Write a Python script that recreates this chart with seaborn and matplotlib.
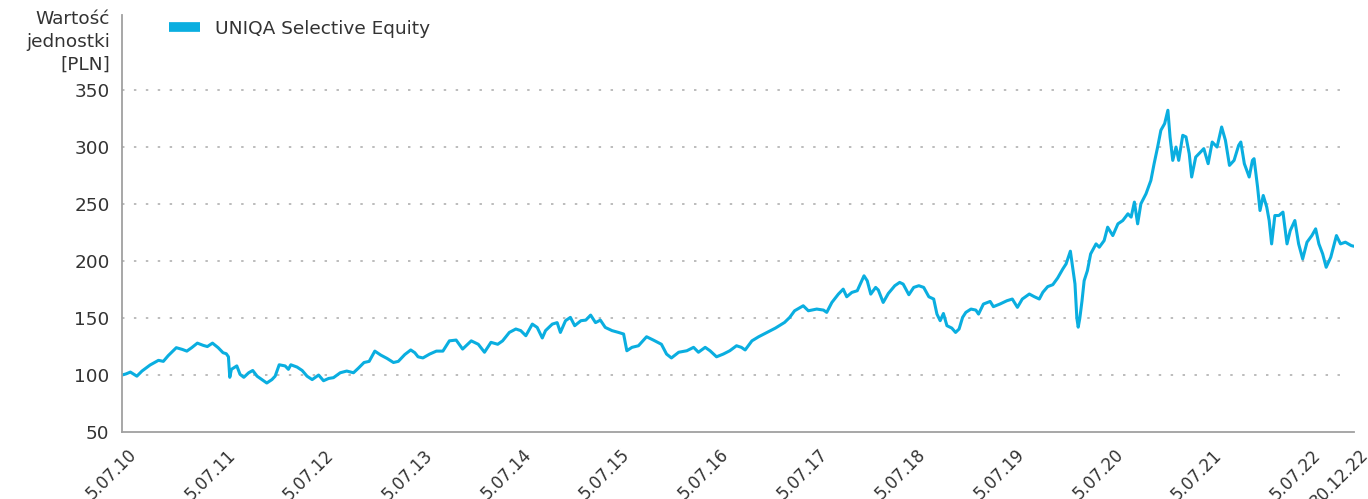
import pandas as pd
import matplotlib
matplotlib.use("Agg")
import matplotlib.pyplot as plt
import matplotlib.transforms as mtransforms
import seaborn as sns

# ========== DATA ==========
dates = [
    "2010-07-05", "2010-07-20", "2010-08-05", "2010-08-29", "2010-09-17", "2010-10-17",
    "2010-11-17", "2010-12-05", "2010-12-23", "2011-01-22", "2011-02-13", "2011-03-02",
    "2011-03-20", "2011-04-10", "2011-05-02", "2011-05-17", "2011-06-05", "2011-06-26",
    "2011-07-14", "2011-07-26", "2011-08-03", "2011-08-08", "2011-08-14", "2011-09-03",
    "2011-09-15", "2011-09-29", "2011-10-17", "2011-11-01", "2011-11-17", "2011-12-05",
    "2011-12-23", "2012-01-11", "2012-01-23", "2012-02-07", "2012-02-29", "2012-03-12",
    "2012-03-21", "2012-04-13", "2012-05-02", "2012-05-20", "2012-06-08", "2012-07-02",
    "2012-07-20", "2012-08-08", "2012-08-26", "2012-09-20", "2012-10-14", "2012-11-08",
    "2012-11-26", "2012-12-17", "2013-01-05", "2013-01-26", "2013-02-17", "2013-03-12",
    "2013-04-05", "2013-04-23", "2013-05-17", "2013-06-08", "2013-06-23", "2013-07-05",
    "2013-07-23", "2013-08-17", "2013-09-11", "2013-10-05", "2013-10-29", "2013-11-23",
    "2013-12-17", "2014-01-18", "2014-02-13", "2014-03-08", "2014-04-01", "2014-04-26",
    "2014-05-14", "2014-06-08", "2014-07-02", "2014-07-20", "2014-08-08", "2014-09-01",
    "2014-09-19", "2014-10-08", "2014-10-20", "2014-11-14", "2014-12-02", "2014-12-14",
    "2015-01-02", "2015-01-20", "2015-02-05", "2015-02-28", "2015-03-18", "2015-04-05",
    "2015-04-23", "2015-05-11", "2015-05-29", "2015-06-23", "2015-07-17", "2015-08-05",
    "2015-08-17", "2015-09-05", "2015-09-29", "2015-10-29", "2015-11-23", "2015-12-23",
    "2016-01-11", "2016-01-29", "2016-02-25", "2016-03-26", "2016-04-20", "2016-05-08",
    "2016-06-02", "2016-06-20", "2016-07-14", "2016-08-08", "2016-09-01", "2016-09-26",
    "2016-10-14", "2016-10-28", "2016-11-22", "2016-12-17", "2017-01-17", "2017-02-17",
    "2017-03-23", "2017-04-11", "2017-04-29", "2017-05-31", "2017-06-19", "2017-07-20",
    "2017-08-14", "2017-08-26", "2017-09-14", "2017-10-08", "2017-10-26", "2017-11-08",
    "2017-11-27", "2017-12-17", "2018-01-11", "2018-01-23", "2018-02-05", "2018-02-23",
    "2018-03-05", "2018-03-23", "2018-04-11", "2018-05-05", "2018-05-23", "2018-06-05",
    "2018-06-26", "2018-07-14", "2018-08-02", "2018-08-20", "2018-09-08", "2018-09-26",
    "2018-10-08", "2018-10-20", "2018-11-01", "2018-11-14", "2018-12-02", "2018-12-16",
    "2018-12-29", "2019-01-11", "2019-01-23", "2019-02-11", "2019-03-01", "2019-03-11",
    "2019-03-29", "2019-04-23", "2019-05-05", "2019-05-29", "2019-06-24", "2019-07-14",
    "2019-08-02", "2019-08-20", "2019-09-15", "2019-10-03", "2019-10-22", "2019-11-04",
    "2019-11-22", "2019-12-11", "2019-12-29", "2020-01-17", "2020-01-29", "2020-02-14",
    "2020-02-24", "2020-03-02", "2020-03-09", "2020-03-14", "2020-03-20", "2020-03-28",
    "2020-04-05", "2020-04-17", "2020-04-29", "2020-05-19", "2020-05-31", "2020-06-18",
    "2020-07-01", "2020-07-20", "2020-08-08", "2020-08-26", "2020-09-14", "2020-09-26",
    "2020-10-08", "2020-10-20", "2020-11-01", "2020-11-20", "2020-12-08", "2020-12-20",
    "2021-01-02", "2021-01-14", "2021-01-28", "2021-02-09", "2021-02-17", "2021-02-27",
    "2021-03-11", "2021-03-21", "2021-04-05", "2021-04-17", "2021-04-29", "2021-05-08",
    "2021-05-23", "2021-06-10", "2021-06-22", "2021-07-08", "2021-07-23", "2021-08-10",
    "2021-08-27", "2021-09-10", "2021-09-25", "2021-10-12", "2021-10-29", "2021-11-06",
    "2021-11-19", "2021-12-07", "2021-12-19", "2021-12-25", "2022-01-07", "2022-01-16",
    "2022-01-28", "2022-02-10", "2022-02-19", "2022-02-28", "2022-03-12", "2022-03-27",
    "2022-04-11", "2022-04-26", "2022-05-08", "2022-05-25", "2022-06-08", "2022-06-23",
    "2022-07-09", "2022-07-27", "2022-08-10", "2022-08-22", "2022-09-05", "2022-09-18",
    "2022-10-05", "2022-10-26", "2022-11-10", "2022-11-28", "2022-12-20", "2022-12-30",
]
values = [
    100, 101, 102.6, 99, 103.5, 108.8,
    112.9, 112, 117, 124, 122.5, 121,
    124, 128, 126, 125, 128, 124,
    119.6, 118.7, 116, 98, 105, 108,
    100.6, 98, 102, 104, 99, 96,
    93, 96, 99, 109, 108, 105,
    109, 107, 104, 99, 96, 100,
    95, 97, 97.7, 102, 103.5, 102,
    106, 111, 112, 121, 117.5, 114.6,
    111, 112, 118, 122, 119.6, 116,
    115, 118.4, 121, 121, 130, 130.7,
    122.8, 130, 127, 120, 128.7, 127,
    130, 137.4, 140.4, 139, 134.5, 144.7,
    141.8, 132.5, 139, 144.7, 146, 137.4,
    147.7, 150.6, 143.3, 147.7, 148.2, 152.6,
    146, 148.2, 141.8, 139, 137.4, 136,
    121.3, 124.3, 125.7, 133.6, 130.7, 127,
    118.4, 115, 120, 121.3, 124.3, 120,
    124.3, 121.3, 116, 118.4, 121.3, 125.7,
    124.3, 122, 130, 133.6, 137.4, 141.2,
    146.2, 150.6, 156.4, 160.8, 156.4, 157.9,
    157, 155, 163.7, 171, 175.4, 168.7,
    172.5, 174, 187.1, 182.7, 171, 176.9,
    174.6, 163.7, 171.6, 178.4, 181.3, 179.8,
    170.5, 176.9, 178.4, 176.9, 168.7, 166.7,
    153.5, 147.7, 154, 143.3, 141.2, 137.4,
    140.4, 150.6, 155, 157.9, 157, 153.5,
    162.3, 164.6, 160, 162.3, 165.2, 166.7,
    159.4, 166.7, 171.1, 168.8, 166.7, 172.6,
    177.6, 179.3, 185.2, 193.1, 197.5, 208.7,
    192, 180, 150, 142, 150, 165,
    182.8, 191.6, 206.3, 215.1, 212.2, 218,
    229.8, 222.4, 232.7, 235.6, 241.5, 238.6,
    251.8, 232.7, 250.3, 259.1, 270.8, 285.5,
    300.1, 314.8, 320.7, 332.4, 309, 288.4,
    300.1, 288.4, 310.4, 309, 294.3, 273.8,
    291.3, 295.7, 298.7, 285.5, 304.5, 300.1,
    317.7, 306, 284, 288.4, 301.6, 304.5,
    285.5, 273.8, 288.4, 289.9, 265, 244.4,
    257.6, 247.4, 235.6, 215.1, 240, 240,
    243, 215.1, 226.8, 235.6, 215.1, 201.9,
    216.6, 222.4, 228.3, 215.1, 206.3, 194.6,
    203.4, 222.4, 215.1, 216.6, 213.6, 213,
]
tick_dates = [
    "2010-07-05", "2011-07-05", "2012-07-05", "2013-07-05", "2014-07-05",
    "2015-07-05", "2016-07-05", "2017-07-05", "2018-07-05", "2019-07-05",
    "2020-07-05", "2021-07-05", "2022-07-05", "2022-12-30",
]
tick_labels = [
    "5.07.10", "5.07.11", "5.07.12", "5.07.13", "5.07.14", "5.07.15", "5.07.16",
    "5.07.17", "5.07.18", "5.07.19", "5.07.20", "5.07.21", "5.07.22", "30.12.22",
]
y_ticks = [50, 100, 150, 200, 250, 300, 350]
series_name = "UNIQA Selective Equity"

df = pd.DataFrame({"data": pd.to_datetime(dates), "wartosc": values, "fundusz": series_name})

# ========== STYLE ==========
sns.set_style("white")
plt.rcParams["font.family"] = ["DejaVu Sans"]
fs = 13.3
text_color = "#333333"
axis_color = "#a0a0a0"
line_color = "#0AAEE0"

fig = plt.figure(figsize=(13.68, 4.99), dpi=100)
ax = fig.add_axes([122 / 1368, 1 - 432 / 499, (1354 - 122) / 1368, (432 - 15) / 499])

sns.lineplot(data=df, x="data", y="wartosc", hue="fundusz", palette=[line_color],
             linewidth=2.2, ax=ax)

ax.set_xlim(pd.Timestamp(tick_dates[0]), pd.Timestamp(tick_dates[-1]))
ax.set_ylim(50, 416)

# grid - dotted
for v in y_ticks[1:]:
    ax.axhline(v, xmax=0.995, color="#aaaaaa", lw=1.1, ls=(0, (1.6, 6.2)), zorder=0)

ax.set_yticks(y_ticks)
ax.set_yticklabels([str(v) for v in y_ticks], color=text_color, fontsize=fs)
ax.tick_params(axis="y", length=0, pad=9)

ax.set_xticks(pd.to_datetime(tick_dates))
ax.set_xticklabels(tick_labels, rotation=45, ha="right", rotation_mode="anchor",
                   color=text_color, fontsize=12)
ax.tick_params(axis="x", length=6, width=1.3, color=axis_color, pad=4)
shift = mtransforms.ScaledTranslation(4 / 72, 0, fig.dpi_scale_trans)
for lab in ax.get_xticklabels():
    lab.set_transform(lab.get_transform() + shift)

for s in ["top", "right"]:
    ax.spines[s].set_visible(False)
for s in ["left", "bottom"]:
    ax.spines[s].set_color(axis_color)
    ax.spines[s].set_linewidth(1.3)

ax.set_xlabel("")
ax.set_ylabel("")

fig.text(110 / 1368, 1 - 10 / 499, "Wartość\njednostki\n[PLN]", ha="right", va="top",
         color=text_color, fontsize=fs, linespacing=1.35)

leg = ax.legend(loc="upper left", bbox_to_anchor=(152 / 1368, 1 - 3 / 499),
                bbox_transform=fig.transFigure, frameon=False, handlelength=1.7,
                handletextpad=0.8, fontsize=fs)
for h in leg.get_lines():
    h.set_linewidth(7)
    h.set_solid_capstyle("butt")
for t in leg.get_texts():
    t.set_color(text_color)

plt.savefig("out.png", dpi=100)
